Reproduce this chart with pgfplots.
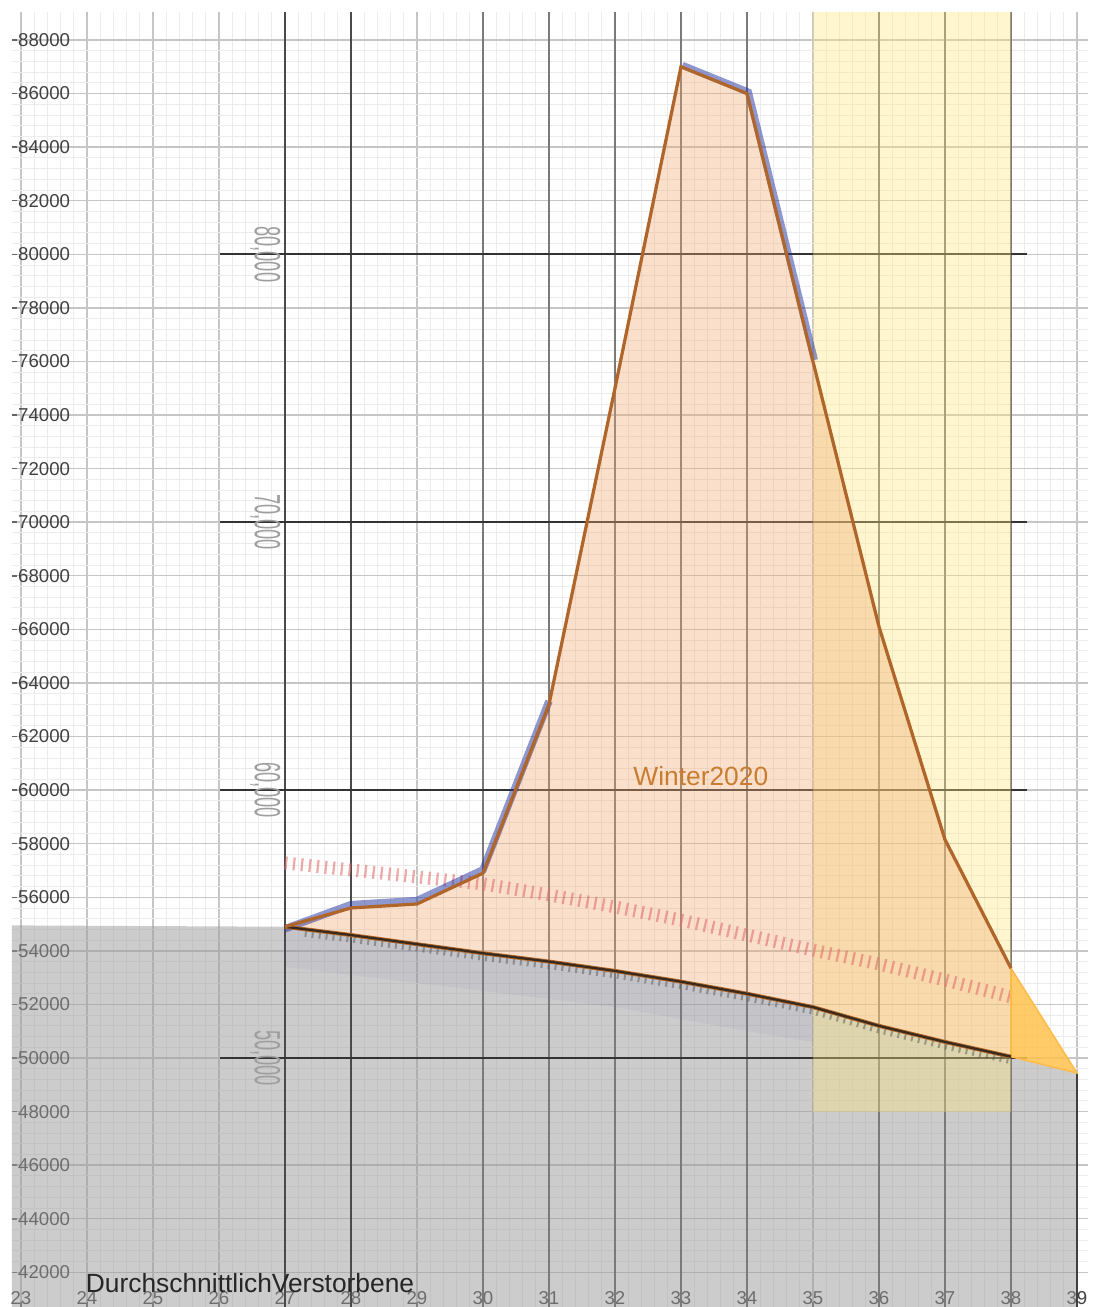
\documentclass[border=0pt]{standalone}
\usepackage{fontspec}
\setmainfont{Liberation Sans}
\usepackage{pgfplots}
\pgfplotsset{compat=1.18}
\definecolor{gridmaj}{HTML}{C6C6C6}
\definecolor{gridmin}{HTML}{ECECEC}
\definecolor{orangeline}{HTML}{B0662A}
\definecolor{lowerline}{HTML}{3A2A1C}
\definecolor{peach}{HTML}{F0A870}
\definecolor{bandyellow}{HTML}{FFE77A}
\definecolor{triyellow}{HTML}{FFC24F}
\definecolor{shade}{HTML}{9A9A9A}
\definecolor{redhatch}{HTML}{E47070}
\definecolor{wintertext}{HTML}{C97C30}
\definecolor{darkv}{HTML}{4A4A4A}
\definecolor{midv}{HTML}{7A7A7A}
\definecolor{glow}{HTML}{2030A0}
\newcommand{\fadelabel}[1]{\rotatebox{-90}{\scalebox{1}[2]{#1}}}
\begin{document}
\begin{tikzpicture}
\begin{axis}[name=ax, scale only axis, width=21.52cm, height=25.90cm,
  xmin=22.864, xmax=39.167, ymin=40706, ymax=89045,
  xtick={23,24,...,39}, ytick={42000,44000,...,88000},
  minor x tick num=4, minor y tick num=4,
  grid=both,
  major grid style={gridmaj, line width=0.028cm},
  minor grid style={gridmin, line width=0.018cm},
  axis line style={draw=none},
  tick pos=left, tick align=inside,
  major tick length=0.1cm, minor tick length=0pt,
  tick style={black!60, line width=0.03cm},
  scaled ticks=false,
  /pgf/number format/assume math mode=true,
  /pgf/number format/1000 sep={},
  yticklabel style={anchor=west, font=\fontsize{10.6}{12}\selectfont, text=black!75},
  xticklabel style={anchor=base, yshift=0.05cm, font=\fontsize{10.6}{12}\selectfont, text=black!75},
  clip=true]

% grey area below the average line
\addplot[draw=none, fill=shade, fill opacity=0.5] coordinates {
 (22.864,54950) (27,54900) (28,54590) (29,54250) (30,53910) (31,53600) (32,53250)
 (33,52850) (34,52400) (35,51900) (36,51200) (37,50600) (38,50050) (39,49440)
 (39,40706) (22.864,40706)} -- cycle;
% bluish tint just below the line
\addplot[draw=none, fill=blue!30!gray, fill opacity=0.07] coordinates {
 (27,54900) (28,54590) (29,54250) (30,53910) (31,53600) (32,53250) (33,52850)
 (34,52400) (35,51900) (35,50600) (34,51000) (32,51900) (30,52500) (28,53100) (27,53400)} -- cycle;

% dark vertical lines
\pgfplotsinvokeforeach{27,28}{\addplot[darkv, line width=0.045cm] coordinates {(#1,40706) (#1,89045)};}
\pgfplotsinvokeforeach{30,31,32,33,34,36,37,38}{\addplot[midv, line width=0.04cm] coordinates {(#1,40706) (#1,89045)};}
% dark horizontal lines
\pgfplotsinvokeforeach{50000,60000,70000,80000}{\addplot[black!80, line width=0.045cm] coordinates {(26.02,#1) (38.24,#1)};}
\addplot[black!75, line width=0.05cm] coordinates {(39,49440) (39,40706)};

% yellow band
\addplot[draw=none, fill=bandyellow, fill opacity=0.36] coordinates {
 (35,48000) (38,48000) (38,89045) (35,89045)} -- cycle;

% Winter2020 area
\addplot[draw=none, fill=peach, fill opacity=0.36] coordinates {
 (27,54900) (28,55600) (29,55750) (30,56900) (31,63200) (32,75000) (33,87000)
 (34,86000) (35,76000) (36,66100) (37,58150) (38,53350)
 (38,50050) (37,50600) (36,51200) (35,51900) (34,52400) (33,52850) (32,53250)
 (31,53600) (30,53910) (29,54250) (28,54590)} -- cycle;

% red hatched line
\addplot[redhatch, opacity=0.6, line width=0.26cm, dash pattern=on 0.045cm off 0.115cm] coordinates {
 (27,57280) (28,57020) (29,56760) (30,56500) (31,56090) (32,55640) (33,55150)
 (34,54590) (35,54030) (36,53510) (37,52910) (38,52280)};

% dark hatch below the average line
\addplot[black!65, opacity=0.5, line width=0.14cm, dash pattern=on 0.04cm off 0.1cm, yshift=-0.08cm] coordinates {
 (27.3,54800) (28,54590) (29,54250) (30,53910) (31,53600) (32,53250) (33,52850)
 (34,52400) (35,51900) (36,51200) (37,50600) (38,50050)};

% blue glow
\addplot[glow, opacity=0.5, line width=0.15cm, yshift=0.04cm] coordinates {
 (27,54750) (28,55650) (29,55800) (30,56950) (31,63250)};
\addplot[glow, opacity=0.5, line width=0.14cm, xshift=0.03cm, yshift=0.03cm] coordinates {
 (33,87000) (34,86000) (35,76000)};

% triangle
\addplot[draw=triyellow!90!orange, line width=0.03cm, fill=triyellow, fill opacity=0.85] coordinates {
 (38,53350) (38,50050) (39,49440)} -- cycle;

% average line
\addplot[orangeline, line width=0.08cm] coordinates {
 (27,54900) (28,54590) (29,54250) (30,53910) (31,53600) (32,53250) (33,52850)
 (34,52400) (35,51900) (36,51200) (37,50600) (38,50050)};
\addplot[lowerline, line width=0.045cm] coordinates {
 (27,54900) (28,54590) (29,54250) (30,53910) (31,53600) (32,53250) (33,52850)
 (34,52400) (35,51900) (36,51200) (37,50600) (38,50050)};
% Winter 2020 line
\addplot[orangeline, line width=0.065cm] coordinates {
 (27,54900) (28,55600) (29,55750) (30,56900) (31,63200) (32,75000) (33,87000)
 (34,86000) (35,76000) (36,66100) (37,58150) (38,53350)};

% faint rotated labels
\node[text=black!38, inner sep=0pt, font=\fontsize{10.4}{12}\selectfont] at (axis cs:26.70,80000) {\fadelabel{80,000}};
\node[text=black!38, inner sep=0pt, font=\fontsize{10.4}{12}\selectfont] at (axis cs:26.70,70000) {\fadelabel{70,000}};
\node[text=black!38, inner sep=0pt, font=\fontsize{10.4}{12}\selectfont] at (axis cs:26.70,60000) {\fadelabel{60,000}};
\node[text=black!38, inner sep=0pt, font=\fontsize{10.4}{12}\selectfont] at (axis cs:26.70,50000) {\fadelabel{50,000}};

\node[anchor=base, text=wintertext, font=\fontsize{15}{18}\selectfont] at (axis cs:33.30,60190) {Winter2020};
\node[anchor=base west, text=black!85, font=\fontsize{15}{18}\selectfont] at (axis cs:23.89,41250) {DurchschnittlichVerstorbene};
\end{axis}
\pgfresetboundingbox
\path ([xshift=-0.24cm]ax.south west) rectangle ([xshift=0.08cm,yshift=0.24cm]ax.north east);
\end{tikzpicture}
\end{document}
